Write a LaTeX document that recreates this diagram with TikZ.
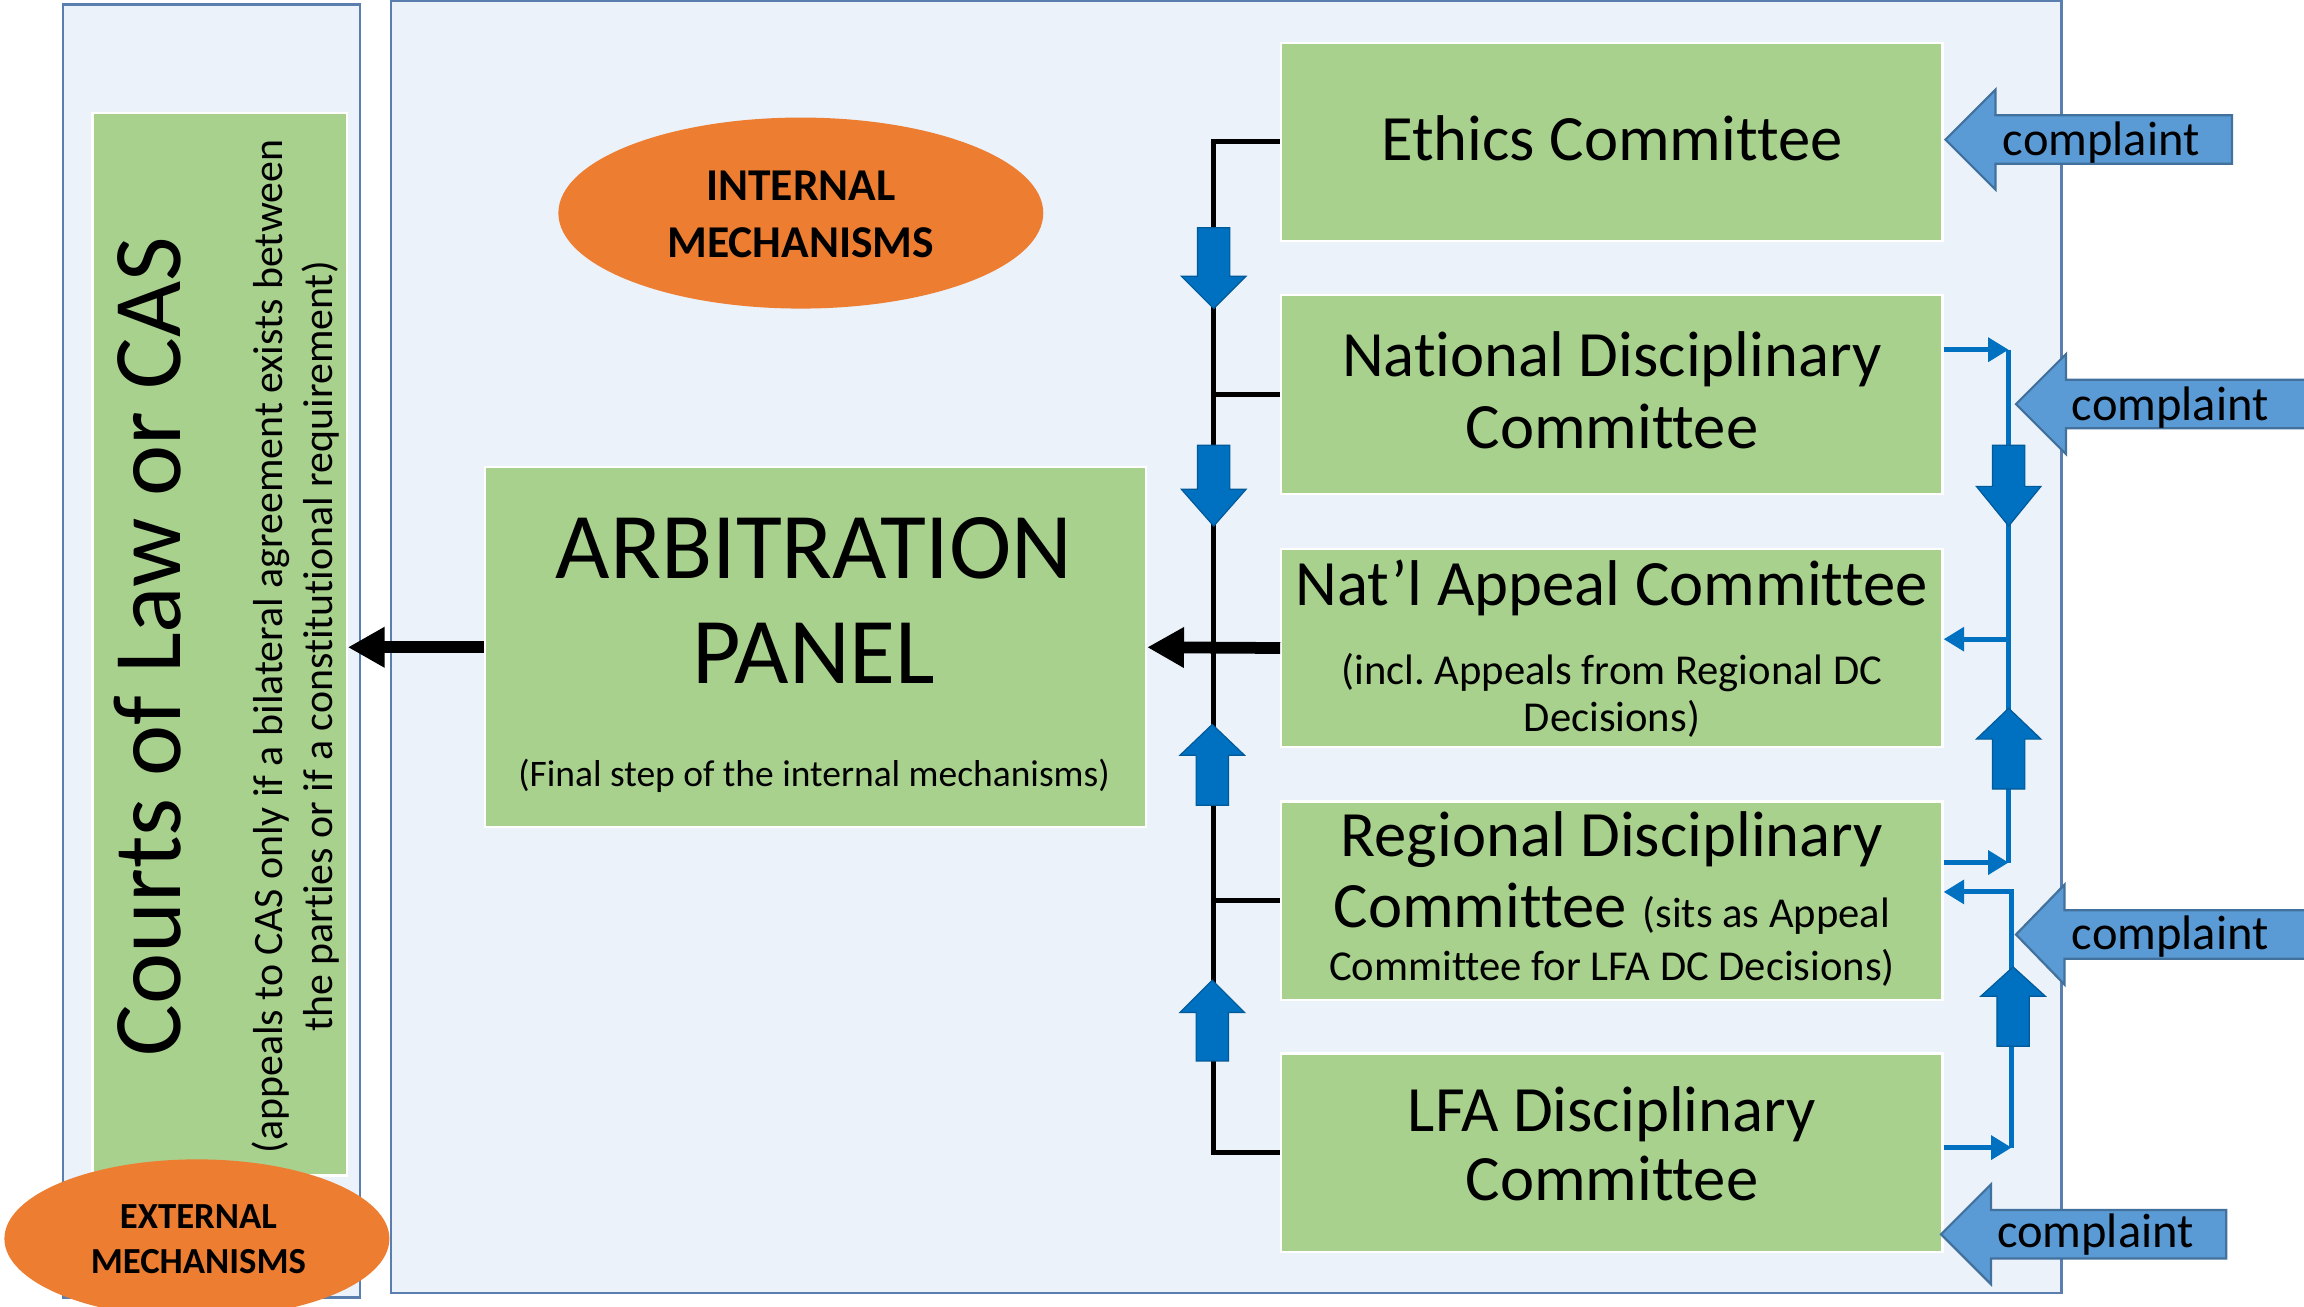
\documentclass[tikz,border=0pt]{standalone}
\usepackage{fontspec}
\setmainfont{Carlito}[Ligatures=NoCommon]
\usetikzlibrary{shapes.geometric,arrows.meta}
\definecolor{bgblue}{HTML}{EBF2FA}
\definecolor{frameblue}{HTML}{5A7FAE}
\definecolor{boxgreen}{HTML}{A9D18E}
\definecolor{orng}{HTML}{ED7D31}
\definecolor{darkblue}{HTML}{0070C0}
\definecolor{cmpfill}{HTML}{5B9BD5}
\definecolor{cmpline}{HTML}{41719C}
\newcommand{\fTitle}{\fontsize{44}{49}\selectfont}
\newcommand{\fSub}{\fontsize{29}{32}\selectfont}
\newcommand{\fArb}{\fontsize{64}{70}\selectfont}
\newcommand{\fFinal}{\fontsize{25.5}{30}\selectfont}
\newcommand{\fCmp}{\fontsize{33}{36}\selectfont}
\newcommand{\fCourt}{\fontsize{66}{70}\selectfont}
\newcommand{\fCourtSub}{\fontsize{28.5}{32}\selectfont}
\newcommand{\fInt}{\fontsize{31}{36}\selectfont\bfseries}
\newcommand{\fExt}{\fontsize{25}{30}\selectfont\bfseries}
\newcommand{\blockarr}[4]{\filldraw[blockarrow] ({#1-11},#2) -- ({#1+11},#2) -- ({#1+11},#3) -- ({#1+22},#3) -- (#1,#4) -- ({#1-22},#3) -- ({#1-11},#3) -- cycle;}
\newcommand{\cmparr}[4]{\filldraw[cmparrow] (#1,#4) -- (#2,{#4-34}) -- (#2,{#4-16.5}) -- (#3,{#4-16.5}) -- (#3,{#4+16.5}) -- (#2,{#4+16.5}) -- (#2,{#4+34}) -- cycle;}
\frenchspacing
\begin{document}
\begin{tikzpicture}[x=1pt,y=-1pt,
  frame/.style={rectangle, draw=frameblue, line width=1.5pt, fill=bgblue, inner sep=0pt},
  gbox/.style={rectangle, fill=boxgreen, draw=white, line width=1.5pt, inner sep=0pt},
  oval/.style={ellipse, fill=orng, inner sep=0pt},
  txt/.style={inner sep=0pt, anchor=base},
  trunk/.style={line width=3.2pt, black},
  bigarrow/.style={line width=8pt, -{Triangle[length=25pt,width=26pt]}},
  bluelink/.style={draw=darkblue, line width=3.4pt},
  bluetip/.style={bluelink, -{Triangle[length=14pt,width=16pt]}},
  blockarrow/.style={fill=darkblue, draw=darkblue!80!black, line width=0.8pt},
  cmparrow/.style={fill=cmpfill, draw=cmpline, line width=1.5pt},
]
\useasboundingbox (0,0) rectangle (1568,889);
\clip (0,0) rectangle (1568,889);
\fill[white] (0,0) rectangle (1568,889);

% frames
\node[frame, minimum width=202pt, minimum height=880pt] (extbox) at (144,443) {};
\node[frame, minimum width=1137pt, minimum height=879.5pt] (intbox) at (834.5,440.25) {};

% green boxes
\node[gbox, minimum width=173pt, minimum height=723pt] (courts) at (149.5,438.5) {};
\node[gbox, minimum width=450pt, minimum height=245pt] (arb) at (555,440.5) {};
\node[gbox, minimum width=450pt, minimum height=135pt] (eth) at (1097,96.5) {};
\node[gbox, minimum width=450pt, minimum height=135pt] (ndc) at (1097,268.5) {};
\node[gbox, minimum width=450pt, minimum height=135pt] (nac) at (1097,441) {};
\node[gbox, minimum width=450pt, minimum height=135pt] (rdc) at (1097,613) {};
\node[gbox, minimum width=450pt, minimum height=135pt] (lfa) at (1097,784.5) {};

% ovals
\node[oval, minimum width=330pt, minimum height=130pt] (intm) at (545,145) {};
\node[oval, minimum width=262pt, minimum height=108pt] (extm) at (134,843) {};
\node[txt, font=\fInt] (intm1) at (545,136.5) {INTERNAL};
\node[txt, font=\fInt] (intm2) at (545,175.5) {MECHANISMS};
\node[txt, font=\fExt] (extm1) at (135,836) {EXTERNAL};
\node[txt, font=\fExt] (extm2) at (135,866.5) {MECHANISMS};

% texts
\node[txt, rotate=90, font=\fCourt] (courtsT) at (123,440) {Courts of Law or CAS};
\node[txt, rotate=90, font=\fCourtSub] (courtsS1) at (192,440) {(appeals to CAS only if a bilateral agreement exists between};
\node[txt, rotate=90, font=\fCourtSub] (courtsS2) at (226,440) {the parties or if a constitutional requirement)};
\node[txt, font=\fArb] (arbT1) at (554,393.5) {ARBITRATION};
\node[txt, font=\fArb] (arbT2) at (554,465) {PANEL};
\node[txt, font=\fFinal] (arbT3) at (554,535) {(Final step of the internal mechanisms)};
\node[txt, font=\fTitle] (ethT) at (1097,109) {Ethics Committee};
\node[txt, font=\fTitle] (ndcT1) at (1097,256) {National Disciplinary};
\node[txt, font=\fTitle] (ndcT2) at (1097,305) {Committee};
\node[txt, font=\fTitle] (nacT1) at (1097,412) {Nat’l Appeal Committee};
\node[txt, font=\fSub] (nacT2) at (1097,466) {(incl. Appeals from Regional DC};
\node[txt, font=\fSub] (nacT3) at (1097,497.5) {Decisions)};
\node[txt, font=\fTitle] (rdcT1) at (1097,583) {Regional Disciplinary};
\node[txt] (rdcT2) at (1097,631) {{\fTitle Committee}\hspace{11pt}{\fSub (sits as Appeal}};
\node[txt, font=\fSub] (rdcT3) at (1097,667.5) {Committee for LFA DC Decisions)};
\node[txt, font=\fTitle] (lfaT1) at (1097,770) {LFA Disciplinary};
\node[txt, font=\fTitle] (lfaT2) at (1097,817) {Committee};

% left trunk
\coordinate (tx) at (826,0);
\draw[trunk] (eth.west) -| (tx |- lfa.west) -- (lfa.west);
\draw[trunk] (ndc.west) -- (tx |- ndc.west);
\draw[trunk] (rdc.west) -- (tx |- rdc.west);

% big black arrows
\draw[bigarrow] (nac.west) -- (arb.east);
\draw[bigarrow] (arb.west) -- (courts.east |- arb.west);

% right blue connectors
\coordinate (ra) at (1367,238);
\coordinate (rb) at (1367,435);
\coordinate (rc) at (1367,587);
\coordinate (rd) at (1369,607);
\coordinate (re) at (1369,781);
\draw[bluetip] (ndc.east |- ra) -- (ra);
\draw[bluelink] (ra) -- (rc);
\draw[bluetip] (rb) -- (nac.east |- rb);
\draw[bluetip] (rdc.east |- rc) -- (rc);
\draw[bluetip] (lfa.east |- re) -- (re);
\draw[bluetip] (re) -- (rd) -- (rdc.east |- rd);

% block arrows
\blockarr{826}{155}{188}{210}
\blockarr{826}{303}{333}{358}
\blockarr{825}{548}{514}{493}
\blockarr{825}{722}{689}{667}
\blockarr{1367}{303}{331}{358}
\blockarr{1367}{537}{503}{482}
\blockarr{1370}{712}{678}{658}

% complaint arrows
\cmparr{1324}{1358}{1519}{95}
\cmparr{1372}{1406}{1570}{275}
\cmparr{1372}{1405}{1570}{636}
\cmparr{1321}{1355}{1515}{840}
\node[txt, font=\fCmp] (c1) at (1430,106) {complaint};
\node[txt, font=\fCmp] (c2) at (1477,286) {complaint};
\node[txt, font=\fCmp] (c3) at (1477,646) {complaint};
\node[txt, font=\fCmp] (c4) at (1426,849) {complaint};
\end{tikzpicture}
\end{document}
